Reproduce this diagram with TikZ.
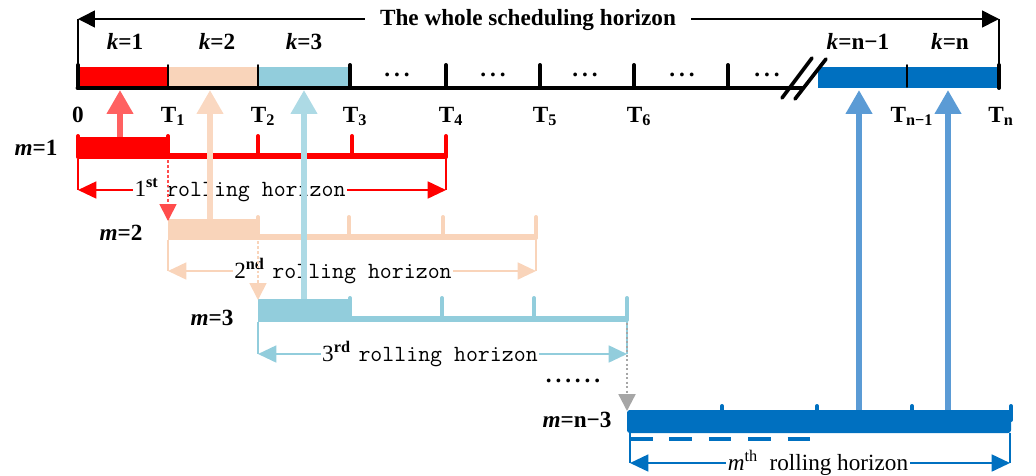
\documentclass[tikz,border=0pt]{standalone}
\usepackage{fontspec}
\setmainfont{Liberation Serif}
\usetikzlibrary{arrows.meta}
\definecolor{barred}{HTML}{FF0000}
\definecolor{barpeach}{HTML}{F9D4BA}
\definecolor{barcyan}{HTML}{92CDDC}
\definecolor{barblue}{HTML}{0070C0}
\definecolor{liftblue}{HTML}{5B9BD5}
\definecolor{dropgray}{HTML}{A6A6A6}

\begin{document}
\begin{tikzpicture}[x=0.025cm, y=-0.025cm,
  tick/.style={line width=2.8pt, line cap=round},
  thintick/.style={line width=1.3pt, line cap=round},
  rowline/.style={line width=4pt},
  ext/.style={line width=0.9pt},
  dim/.style={line width=1.4pt, {Triangle[length=13pt,width=12pt]}-{Triangle[length=13pt,width=12pt]}},
  lift/.style={line width=4.3pt, -{Triangle[length=17pt,width=18pt]}},
  drop/.style={line width=1.2pt, dash pattern=on 2pt off 1.5pt, -{Triangle[length=12pt,width=12pt]}},
  lab/.style={font=\fontsize{16.5}{19}\selectfont\bfseries},
  span/.style={fill=white, inner xsep=1pt, inner ysep=1pt, font=\fontsize{16.5}{19}\selectfont}]

\useasboundingbox (0,0) rectangle (1036,475);

% whole scheduling horizon
\coordinate (H0) at (78,19);
\coordinate (Hn) at (999,19);
\draw[ext] (H0) -- (78,66);
\draw[ext] (Hn) -- (999,66);
\draw[line width=1.1pt, {Triangle[length=12pt,width=12pt]}-{Triangle[length=12pt,width=12pt]}] (H0) -- (Hn);
\node[fill=white, inner xsep=11pt, font=\fontsize{16.5}{19}\selectfont\bfseries] (whole) at (528,20) {The whole scheduling horizon};

% time axis with the periods k
\fill[barred] (78,67) rectangle (168,88);
\fill[barpeach] (168,67) rectangle (258,88);
\fill[barcyan] (258,67) rectangle (350,88);
\fill[barblue] (818,67) rectangle (999,88);
\draw[line width=3.5pt, line cap=round] (78,88) -- (802,88);
\foreach \x in {78,350,446,540,634,728,999} \draw[tick] (\x,65) -- (\x,88);
\foreach \x in {168,258,907} \draw[thintick] (\x,65) -- (\x,87);
\foreach \x/\i in {397/1,493/2,585/3,682/4,767/5} \node[lab] (dots\i) at (\x,75) {.\,.\,.};
\draw[line width=2.6pt, line cap=round] (782,98) -- (812,58) (795,99) -- (826,59);

\node[lab, anchor=base] (k1) at (125,49) {\textit{k}=1};
\node[lab, anchor=base] (k2) at (217,49) {\textit{k}=2};
\node[lab, anchor=base] (k3) at (304,49) {\textit{k}=3};
\node[lab, anchor=base] (kn1) at (858,49) {\textit{k}=n−1};
\node[lab, anchor=base] (kn) at (950,49) {\textit{k}=n};

\node[lab, anchor=base] (L0) at (78,122) {0};
\node[lab, anchor=base] (L1) at (173,122) {T\textsubscript{1}};
\node[lab, anchor=base] (L2) at (263,122) {T\textsubscript{2}};
\node[lab, anchor=base] (L3) at (355,122) {T\textsubscript{3}};
\node[lab, anchor=base] (L4) at (451,122) {T\textsubscript{4}};
\node[lab, anchor=base] (L5) at (545,122) {T\textsubscript{5}};
\node[lab, anchor=base] (L6) at (639,122) {T\textsubscript{6}};
\node[lab, anchor=base] (Ln1) at (912,122) {T\textsubscript{n−1}};
\node[lab, anchor=base] (Ln) at (1001,122) {T\textsubscript{n}};

% m = 1
\fill[barred] (78,137) rectangle (168,159);
\draw[barred, rowline] (78,156) -- (446,156);
\foreach \x in {78,168,258,352,446} \draw[barred, tick] (\x,136) -- (\x,157);
\node[lab, anchor=base] (m1) at (36,155) {\textit{m}=1};
\coordinate (a1) at (78,190);
\coordinate (b1) at (446,190);
\draw[barred, ext] (78,159) -- (a1);
\draw[barred, ext] (446,157) -- (b1);
\draw[barred, dim] (a1) -- (b1);
\node[span] (r1) at (240,190) {1\textsuperscript{\bfseries st}\,\,\texttt{rolling horizon}};

% m = 2
\fill[barpeach] (168,219) rectangle (258,240);
\draw[barpeach, rowline] (168,237) -- (536,237);
\foreach \x in {258,349,443,536} \draw[barpeach, tick] (\x,217) -- (\x,238);
\node[lab, anchor=base] (m2) at (121,240) {\textit{m}=2};
\coordinate (a2) at (168,271);
\coordinate (b2) at (536,271);
\draw[barpeach, ext] (168,240) -- (a2);
\draw[barpeach, ext] (536,238) -- (b2);
\draw[barpeach, dim] (a2) -- (b2);
\node[span] (r2) at (343,271) {2\textsuperscript{\bfseries nd}\,\,\texttt{rolling horizon}};

% m = 3
\fill[barcyan] (258,299) rectangle (350,322);
\draw[barcyan, rowline] (258,319) -- (627,319);
\foreach \x in {350,442,534,627} \draw[barcyan, tick] (\x,298) -- (\x,320);
\node[lab, anchor=base] (m3) at (212,325) {\textit{m}=3};
\coordinate (a3) at (258,354);
\coordinate (b3) at (627,354);
\draw[barcyan, ext] (258,322) -- (a3);
\draw[barcyan, ext] (627,320) -- (b3);
\draw[barcyan, dim] (a3) -- (b3);
\node[span] (r3) at (430,354) {3\textsuperscript{\bfseries rd}\,\,\texttt{rolling horizon}};

\node[lab] (more) at (573,381) {.\,.\,.\,.\,.\,.};

% m = n-3
\fill[barblue, rounded corners=2pt] (627,410) rectangle (1011,433);
\foreach \x in {722,817,912,1011} \draw[barblue, tick] (\x,406) -- (\x,420);
\draw[barblue, line width=2.8pt, dash pattern=on 16pt off 12pt] (630,439) -- (812,439);
\node[lab, anchor=base] (mn) at (577,427) {\textit{m}=n−3};
\coordinate (an) at (630,463);
\coordinate (bn) at (1010,463);
\draw[barblue, ext] (630,433) -- (an);
\draw[barblue, ext] (1010,433) -- (bn);
\draw[barblue, dim] (an) -- (bn);
\node[span] (rn) at (818,463) {\textit{m}\textsuperscript{th}\ \ rolling horizon};

% hand-over between windows
\draw[barred!70, drop] (168,160) -- (168,221);
\draw[barpeach, drop] (258,241) -- (258,300);
\draw[dropgray, drop, line width=1.6pt, dash pattern=on 1.6pt off 1.6pt] (627,323) -- (627,411);

% fixed periods lifted to the axis
\coordinate (u1) at (120,90);
\coordinate (u2) at (210,90);
\coordinate (u3) at (304,90);
\coordinate (u4) at (859,90);
\coordinate (u5) at (948,90);
\draw[lift, barred!62] (120,137) -- (u1);
\draw[lift, barpeach!90] (210,219) -- (u2);
\draw[lift, barcyan!75] (304,299) -- (u3);
\draw[lift, liftblue] (859,410) -- (u4);
\draw[lift, liftblue] (948,410) -- (u5);
\end{tikzpicture}
\end{document}
